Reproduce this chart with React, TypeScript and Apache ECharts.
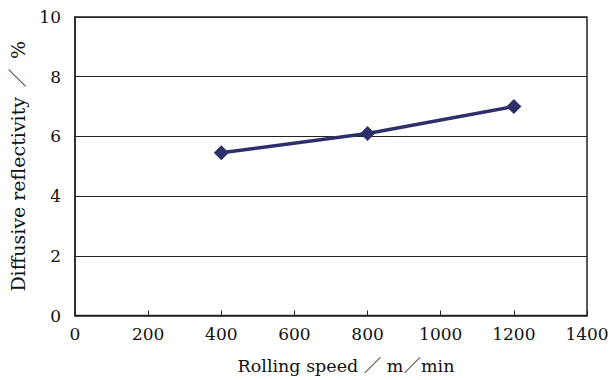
import React, { useEffect, useRef } from "react";
import * as echarts from "echarts";

const speeds = [400, 800, 1200];
const reflectivity = [5.45, 6.1, 7.0];
const xTicks = [0, 200, 400, 600, 800, 1000, 1200, 1400];
const yTicks = [0, 2, 4, 6, 8, 10];

export default function App() {
  const ref = useRef<HTMLDivElement>(null);
  useEffect(() => {
    if (!ref.current) return;
    const chart = echarts.init(ref.current, null, { renderer: "svg" });
    const font = "'DejaVu Serif', 'Liberation Serif', 'Noto Sans CJK JP', serif";
    chart.setOption({
      animation: false,
      backgroundColor: "#ffffff",
      grid: {
        left: 73,
        top: 17,
        width: 514,
        height: 299,
        show: true,
        borderColor: "#222",
        borderWidth: 1.5,
        backgroundColor: "transparent",
      },
      xAxis: {
        type: "value",
        min: xTicks[0],
        max: xTicks[xTicks.length - 1],
        interval: 200,
        name: "Rolling speed ／ m／min",
        nameLocation: "middle",
        nameGap: 42,
        nameTextStyle: {
          fontFamily: font,
          fontSize: 17.5,
          color: "#111",
          padding: [0, 0, 0, 30],
        },
        axisLine: { show: true, lineStyle: { color: "#222", width: 1.5 } },
        axisTick: { show: true, inside: true, length: 5, lineStyle: { color: "#222" } },
        axisLabel: {
          fontFamily: font,
          fontSize: 17,
          color: "#111",
          margin: 10,
          formatter: (v: number) => String(v),
        },
        splitLine: { show: false },
      },
      yAxis: {
        type: "value",
        min: yTicks[0],
        max: yTicks[yTicks.length - 1],
        interval: 2,
        name: "Diffusive reflectivity\u2002／\u2002%",
        nameLocation: "middle",
        nameGap: 48,
        nameTextStyle: { fontFamily: font, fontSize: 19, color: "#111" },
        axisLine: { show: true, lineStyle: { color: "#222", width: 1.5 } },
        axisTick: { show: false },
        axisLabel: {
          fontFamily: font,
          fontSize: 17,
          color: "#111",
          margin: 14,
          formatter: (v: number) => String(v),
        },
        splitLine: { show: true, lineStyle: { color: "#222", width: 1 } },
      },
      series: [
        {
          type: "line",
          data: speeds.map((s, i) => [s, reflectivity[i]]),
          symbol: "diamond",
          symbolSize: 15,
          lineStyle: { color: "#2e2e6b", width: 3.5 },
          itemStyle: { color: "#2e2e6b" },
        },
      ],
    });
    return () => chart.dispose();
  }, []);
  return <div ref={ref} style={{ width: 612, height: 380, position: "absolute", left: 0, top: 0 }} />;
}
